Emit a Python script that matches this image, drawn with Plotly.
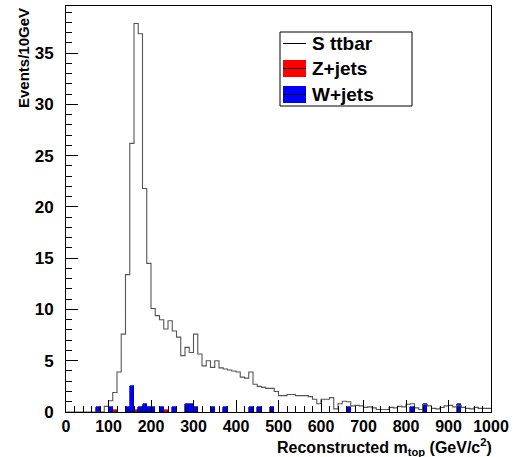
import plotly.graph_objects as go

# ---- data (10 GeV bins from 0 to 1000) ----
bin_width = 10
bin_lo = list(range(0, 1000, 10))

s_ttbar = [
    0, 0, 0, 0, 0, 0, 0, 0, 0, 0.55,          # 0-100
    1.1, 1.9, 3.9, 7.6, 13.4, 26.2, 37.9, 36.9, 21.8, 14.5,   # 100-200
    10.1, 9.4, 9.0, 8.1, 8.9, 7.9, 7.3, 5.5, 6.3, 5.8,        # 200-300
    7.6, 5.65, 4.5, 5.0, 4.35, 5.0, 4.3, 4.2, 4.1, 4.0,       # 300-400
    3.9, 3.4, 3.3, 3.9, 2.7, 2.5, 2.4, 2.3, 2.3, 2.0,         # 400-500
    1.6, 1.6, 1.7, 1.7, 1.6, 1.6, 1.6, 1.5, 1.25, 0.8,        # 500-600
    1.25, 1.25, 1.4, 0.3, 0.8, 1.05, 1.0, 0.6, 0.65, 0.6,     # 600-700
    0.45, 0.5, 0.4, 0.25, 0.25, 0.25, 0.45, 0.4, 0.55, 0.5,   # 700-800
    0.75, 0.8, 0.4, 0.25, 0.75, 0.6, 0.35, 0.3, 0.45, 0.6,    # 800-900
    0.65, 0.5, 0.65, 0.45, 0.35, 0.3, 0.45, 0.35, 0.35, 0.35, # 900-1000
]

z_bins = [110, 160, 230]
z_jets = [0.15, 0.15, 0.15]

w_bins = [70, 100, 140, 150, 170, 180, 190, 200, 220, 250, 280, 290, 300,
          340, 370, 430, 450, 480, 660, 810, 840, 920]
w_jets = [0.45, 0.45, 0.45, 2.55, 0.45, 0.8, 0.45, 0.45, 0.45, 0.45, 0.8, 0.8, 0.45,
          0.45, 0.45, 0.45, 0.45, 0.45, 0.45, 0.45, 0.8, 0.8]

legend_labels = ["S ttbar", "Z+jets", "W+jets"]

x_title = "Reconstructed m<sub>top</sub> (GeV/c<sup>2</sup>)"
y_title = "Events/10GeV"

FONT = "Liberation Sans"

fig = go.Figure()

fig.add_trace(go.Bar(
    x=[b + bin_width / 2 for b in z_bins], y=z_jets, width=bin_width,
    marker=dict(color="#ff0000", line=dict(color="#7f0000", width=0.6)),
    name="Z+jets", showlegend=False,
))
fig.add_trace(go.Bar(
    x=[b + bin_width / 2 for b in w_bins], y=w_jets, width=bin_width,
    marker=dict(color="#0000ff", line=dict(color="#00008b", width=0.7)),
    name="W+jets", showlegend=False,
))
fig.add_trace(go.Scatter(
    x=bin_lo + [1000], y=s_ttbar + [s_ttbar[-1]],
    mode="lines", line=dict(color="#555555", width=1.1, shape="hv"),
    name="S ttbar", showlegend=False,
))

# ---- frame geometry (px) ----
W, H = 515, 457
L, R, T, B = 66, 491, 6, 412
pw, ph = R - L, B - T

def px(x):
    return (x - L) / pw

def py(y):
    return (B - y) / ph

shapes = []
annotations = []

# legend box
shapes.append(dict(type="rect", xref="paper", yref="paper",
                   x0=px(280), x1=px(412), y0=py(106), y1=py(32),
                   line=dict(color="black", width=1), fillcolor="white", layer="above"))
sym_colors = ["white", "#ff0000", "#0000ff"]
sym_tops = [35, 60, 86]
sym_h = 17
for lab, col, top in zip(legend_labels, sym_colors, sym_tops):
    shapes.append(dict(type="rect", xref="paper", yref="paper",
                       x0=px(283), x1=px(306), y0=py(top + sym_h), y1=py(top),
                       line=dict(width=0), fillcolor=col, layer="above"))
    shapes.append(dict(type="line", xref="paper", yref="paper",
                       x0=px(283), x1=px(306), y0=py(top + sym_h / 2), y1=py(top + sym_h / 2),
                       line=dict(color="black", width=1), layer="above"))
    annotations.append(dict(xref="paper", yref="paper", x=px(310), y=py(top + sym_h / 2),
                            xanchor="left", yanchor="middle", showarrow=False,
                            text=lab, font=dict(family=FONT, size=19, color="black", weight="bold")))

annotations.append(dict(xref="paper", yref="paper", x=px(494), y=py(447),
                        xanchor="right", yanchor="middle", showarrow=False,
                        text=x_title, font=dict(family=FONT, size=16, color="black", weight="bold")))
annotations.append(dict(xref="paper", yref="paper", x=px(24), y=py(58),
                        xanchor="center", yanchor="middle", showarrow=False, textangle=-90,
                        text=y_title, font=dict(family=FONT, size=15, color="black", weight="bold")))

fig.update_layout(
    width=W, height=H,
    margin=dict(l=L, r=W - R, t=T, b=H - B, pad=0, autoexpand=False),
    paper_bgcolor="white", plot_bgcolor="white",
    barmode="stack", bargap=0,
    shapes=shapes, annotations=annotations,
    showlegend=False,
)
fig.update_xaxes(
    range=[0, 1000], tickmode="linear", tick0=0, dtick=100,
    ticks="inside", ticklen=12, tickwidth=1, tickcolor="black",
    minor=dict(dtick=20, tick0=0, ticks="inside", ticklen=6, tickcolor="black", tickwidth=1, showgrid=False),
    showline=True, linecolor="black", linewidth=1, mirror=True,
    showgrid=False, zeroline=False, automargin=False,
    tickfont=dict(family=FONT, size=16, color="black", weight="bold"),
    ticklabelstandoff=0,
)
fig.update_yaxes(
    range=[0, 39.6], tickmode="linear", tick0=0, dtick=5,
    ticks="inside", ticklen=12, tickwidth=1, tickcolor="black",
    minor=dict(dtick=1, tick0=0, ticks="inside", ticklen=6, tickcolor="black", tickwidth=1, showgrid=False),
    showline=True, linecolor="black", linewidth=1, mirror=True,
    showgrid=False, zeroline=False, automargin=False,
    tickfont=dict(family=FONT, size=17, color="black", weight="bold"),
    ticklabelstandoff=8,
)

fig.write_html("out.html", config={"displayModeBar": False},
               post_script="document.body.style.margin='0';document.body.style.overflow='hidden';")
